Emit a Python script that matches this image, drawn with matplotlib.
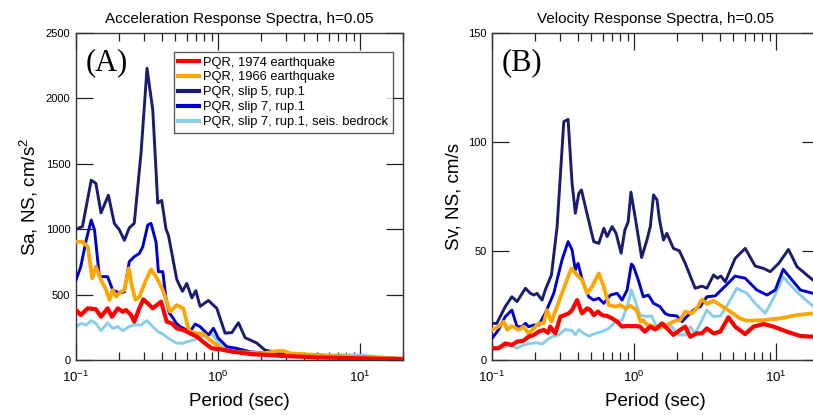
import matplotlib
matplotlib.use('Agg')
import matplotlib.pyplot as plt
from matplotlib.ticker import LogLocator, FixedLocator, NullLocator

plt.rcParams['font.family'] = ['Liberation Sans', 'DejaVu Sans']
plt.rcParams['mathtext.fontset'] = 'custom'
plt.rcParams['mathtext.rm'] = 'Liberation Sans'
plt.rcParams['mathtext.it'] = 'Liberation Sans:italic'
plt.rcParams['mathtext.bf'] = 'Liberation Sans:bold'

labels = ['PQR, 1974 earthquake', 'PQR, 1966 earthquake', 'PQR, slip 5, rup.1',
          'PQR, slip 7, rup.1', 'PQR, slip 7, rup.1, seis. bedrock']
colors = ['#ff0000', '#ffa500', '#1b1b6f', '#0000cd', '#87ceeb']
widths = [3.0, 2.7, 2.1, 2.1, 2.1]
zorders = [6, 5, 3, 4, 2]

# ---- (A) acceleration response spectra, cm/s^2 ----
sa_1974_T = [0.100, 0.108, 0.121, 0.138, 0.150, 0.167, 0.179, 0.197, 0.213, 0.225, 0.244,
             0.257, 0.279, 0.298, 0.320, 0.347, 0.397, 0.435, 0.472, 0.512, 0.570, 0.635,
             0.708, 0.810, 0.903, 1.03, 1.28, 1.68, 2.88, 4.95, 20.0]
sa_1974 = [382, 344, 395, 388, 331, 395, 331, 395, 369, 382, 344,
           293, 395, 464, 433, 395, 446, 293, 280, 242, 229, 204,
           178, 127, 89, 82, 63, 46, 31, 20, 6]

sa_1966_T = [0.100, 0.111, 0.121, 0.130, 0.138, 0.150, 0.163, 0.172, 0.181, 0.191, 0.207,
             0.219, 0.235, 0.248, 0.262, 0.279, 0.311, 0.337, 0.366, 0.408, 0.424, 0.459,
             0.512, 0.570, 0.612, 0.635, 0.708, 0.788, 0.878, 0.979, 1.09, 1.28, 1.68,
             2.08, 2.59, 2.88, 3.21, 4.95, 8.51, 20.0]
sa_1966 = [904, 904, 866, 624, 713, 612, 535, 459, 535, 484, 522,
           535, 701, 561, 459, 484, 612, 693, 637, 535, 484, 369,
           420, 394, 255, 217, 204, 199, 153, 115, 76, 63, 56,
           51, 69, 69, 51, 38, 25, 10]

sa_s5_T = [0.100, 0.111, 0.128, 0.138, 0.150, 0.169, 0.186, 0.202, 0.219, 0.237, 0.257,
           0.287, 0.316, 0.347, 0.376, 0.401, 0.430, 0.447, 0.512, 0.561, 0.602, 0.653,
           0.697, 0.747, 0.855, 0.979, 1.12, 1.25, 1.39, 1.55, 1.87, 2.14, 2.88, 4.95,
           8.51, 20.0]
sa_s5 = [1000, 1020, 1375, 1350, 1125, 1260, 1045, 995, 915, 1010, 1045,
         1585, 2230, 1910, 1200, 1220, 1000, 955, 615, 525, 585, 475,
         530, 410, 455, 395, 205, 210, 285, 170, 130, 75, 50, 38,
         25, 12]

sa_s7_T = [0.100, 0.108, 0.118, 0.128, 0.135, 0.142, 0.146, 0.167, 0.181, 0.202, 0.219,
           0.237, 0.257, 0.279, 0.295, 0.320, 0.337, 0.366, 0.380, 0.408, 0.430, 0.454,
           0.484, 0.506, 0.540, 0.635, 0.689, 0.747, 0.855, 0.927, 1.005, 1.15, 1.35,
           1.68, 2.88, 8.51, 20.0]
sa_s7 = [612, 713, 917, 1070, 994, 765, 637, 637, 535, 512, 522,
         751, 790, 815, 866, 1032, 1045, 900, 675, 675, 470, 359,
         318, 283, 255, 217, 275, 255, 191, 242, 166, 102, 89,
         63, 38, 20, 10]

sa_rock_T = [0.100, 0.108, 0.118, 0.128, 0.138, 0.150, 0.167, 0.181, 0.197, 0.213, 0.237,
             0.257, 0.287, 0.316, 0.347, 0.376, 0.401, 0.447, 0.506, 0.564, 0.602, 0.680,
             0.747, 0.855, 0.900, 0.980, 1.06, 1.25, 1.68, 4.95, 9.50, 20.0]
sa_rock = [255, 280, 268, 301, 280, 224, 285, 242, 255, 224, 255,
           268, 268, 301, 255, 217, 204, 166, 130, 127, 138, 153,
           178, 191, 199, 153, 102, 76, 51, 38, 38, 10]

# ---- (B) velocity response spectra, cm/s ----
sv_1974_T = [0.100, 0.111, 0.124, 0.138, 0.150, 0.167, 0.181, 0.197, 0.213, 0.231, 0.248,
             0.257, 0.279, 0.303, 0.325, 0.347, 0.366, 0.397, 0.430, 0.467, 0.492, 0.520,
             0.557, 0.595, 0.646, 0.700, 0.759, 0.823, 0.893, 0.957, 1.02, 1.10, 1.19,
             1.30, 1.41, 1.57, 1.75, 1.89, 2.11, 2.29, 2.48, 2.76, 3.00, 3.25, 3.62,
             4.04, 4.61, 5.14, 6.05, 6.92, 8.15, 9.57, 11.9, 14.8, 18.1, 20.0]
sv_1974 = [5.4, 5.4, 7.6, 6.9, 8.4, 8.9, 10.7, 11.5, 13.0, 13.8, 12.5,
           15.3, 12.2, 19.9, 20.6, 21.4, 22.9, 27.5, 21.4, 23.7, 22.9, 20.6,
           22.2, 20.6, 20.2, 19.1, 17.6, 15.3, 15.6, 15.5, 15.6, 15.3, 13.0,
           15.3, 14.0, 16.8, 13.8, 11.5, 13.8, 15.3, 10.7, 12.2, 12.2, 14.5, 12.2,
           13.0, 19.6, 15.3, 11.9, 15.3, 16.5, 15.3, 13.0, 11.0, 10.7, 10.6]

sv_1966_T = [0.100, 0.111, 0.121, 0.128, 0.138, 0.154, 0.167, 0.181, 0.197, 0.213, 0.231,
             0.244, 0.262, 0.287, 0.320, 0.362, 0.397, 0.430, 0.467, 0.506, 0.564, 0.612,
             0.664, 0.738, 0.801, 0.868, 0.942, 1.04, 1.11, 1.16, 1.24, 1.30, 1.45,
             1.61, 1.79, 2.00, 2.11, 2.29, 2.55, 2.76, 3.00, 3.25, 3.62, 4.04, 4.75,
             5.57, 6.22, 8.15, 10.7, 14.0, 18.1, 20.0]
sv_1966 = [13.8, 15.3, 17.6, 13.8, 15.6, 13.8, 15.3, 12.2, 14.5, 16.8, 16.8,
           22.9, 17.6, 24.5, 32.9, 42.0, 39.0, 36.7, 30.6, 33.6, 39.7, 33.6,
           25.2, 24.5, 25.2, 23.7, 24.8, 23.0, 17.6, 18.3, 16.0, 16.0, 14.5,
           15.3, 16.8, 18.3, 18.3, 22.2, 21.4, 23.7, 27.8, 25.7, 27.2, 25.2, 22.2,
           19.1, 18.0, 18.3, 19.1, 20.6, 21.4, 21.6]

sv_s5_T = [0.100, 0.108, 0.124, 0.138, 0.150, 0.172, 0.186, 0.197, 0.207, 0.225, 0.237,
           0.262, 0.287, 0.320, 0.343, 0.366, 0.386, 0.408, 0.426, 0.454, 0.520, 0.564,
           0.612, 0.646, 0.700, 0.747, 0.810, 0.861, 0.908, 0.950, 1.02, 1.13, 1.23,
           1.30, 1.37, 1.45, 1.51, 1.61, 1.70, 1.89, 2.08, 2.29, 2.69, 3.00, 3.25,
           3.62, 3.86, 4.08, 4.38, 4.75, 5.14, 6.05, 7.11, 8.15, 9.08, 10.4, 12.2,
           14.0, 18.1, 20.0]
sv_s5 = [16.8, 16.8, 24.5, 29.0, 26.8, 32.9, 30.6, 29.8, 30.6, 27.5, 32.1,
         39.0, 61.0, 109.3, 110.4, 81.0, 67.3, 76.4, 78.0, 70.3, 54.3, 53.5,
         60.4, 56.6, 61.2, 58.1, 49.0, 59.6, 63.4, 77.0, 65.0, 47.0, 55.0,
         61.2, 75.7, 73.4, 64.2, 55.0, 58.1, 51.2, 50.1, 44.3, 32.9, 33.9, 32.9,
         39.0, 37.5, 38.5, 35.9, 41.3, 46.6, 51.2, 43.1, 42.0, 40.5, 44.3, 50.7,
         42.8, 36.7, 35.5]

sv_s7_T = [0.100, 0.111, 0.124, 0.138, 0.150, 0.163, 0.172, 0.181, 0.197, 0.213, 0.237,
           0.272, 0.311, 0.343, 0.366, 0.386, 0.403, 0.435, 0.480, 0.520, 0.564, 0.612,
           0.681, 0.759, 0.823, 0.893, 0.957, 0.989, 1.07, 1.16, 1.26, 1.37, 1.52,
           1.65, 1.75, 2.00, 2.17, 2.35, 2.62, 2.92, 3.25, 3.72, 4.38, 5.14, 6.05,
           7.31, 8.61, 9.84, 11.2, 12.9, 14.8, 18.1, 20.0]
sv_s7 = [9.9, 13.8, 19.9, 22.9, 15.3, 15.3, 16.8, 15.3, 16.0, 16.0, 21.4,
         30.6, 45.9, 54.3, 50.5, 41.3, 44.3, 35.9, 29.0, 27.5, 28.3, 26.0,
         29.8, 30.6, 27.5, 32.1, 44.0, 43.0, 36.7, 29.0, 29.8, 26.0, 24.5,
         21.4, 20.6, 20.2, 17.6, 19.9, 22.9, 24.5, 29.0, 29.4, 33.9, 38.5, 37.5,
         32.1, 29.8, 32.1, 41.6, 36.7, 32.1, 30.6, 30.4]

sv_rock_T = [0.100, 0.111, 0.124, 0.135, 0.150, 0.167, 0.186, 0.207, 0.225, 0.244, 0.265,
             0.295, 0.328, 0.366, 0.386, 0.408, 0.442, 0.480, 0.534, 0.595, 0.664, 0.738,
             0.823, 0.893, 0.957, 1.02, 1.10, 1.23, 1.33, 1.45, 1.61, 1.84, 2.05,
             2.29, 2.48, 2.69, 3.00, 3.25, 3.62, 4.04, 4.61, 5.28, 6.22, 7.11, 8.37,
             9.84, 11.2, 12.9, 15.2, 18.1, 20.0]
sv_rock = [4.6, 5.4, 6.1, 6.9, 5.4, 6.9, 7.6, 7.9, 7.3, 9.2, 10.7,
           11.5, 14.0, 13.5, 11.5, 14.0, 12.2, 11.0, 12.2, 13.0, 14.5, 17.6,
           18.3, 24.5, 32.1, 27.0, 20.6, 19.9, 20.2, 14.5, 16.8, 15.3, 11.5,
           11.5, 15.3, 12.2, 18.3, 22.9, 19.9, 20.2, 26.0, 32.9, 30.6, 26.0, 21.4,
           29.8, 38.2, 33.6, 29.0, 24.8, 22.0]

sa_series = [(sa_1974_T, sa_1974), (sa_1966_T, sa_1966), (sa_s5_T, sa_s5),
             (sa_s7_T, sa_s7), (sa_rock_T, sa_rock)]
sv_series = [(sv_1974_T, sv_1974), (sv_1966_T, sv_1966), (sv_s5_T, sv_s5),
             (sv_s7_T, sv_s7), (sv_rock_T, sv_rock)]


def draw_panel(ax, series, title, ylabel, ymax, ystep, tag):
    for (T, v), lab, c, lw, z in zip(series, labels, colors, widths, zorders):
        ax.plot(T, v, color=c, lw=lw, label=lab, zorder=z)
    ax.set_xscale('log')
    ax.set_xlim(0.1, 20)
    ax.set_ylim(0, ymax)
    ax.xaxis.set_major_locator(LogLocator(base=10, numticks=10))
    ax.xaxis.set_minor_locator(LogLocator(base=10, subs=range(2, 10), numticks=20))
    ax.yaxis.set_major_locator(FixedLocator(list(range(0, ymax + 1, ystep))))
    ax.yaxis.set_minor_locator(NullLocator())
    ax.tick_params(which='major', direction='in', length=12, width=0.9, color='#222222',
                   top=True, right=True, labelsize=8, pad=4)
    ax.tick_params(which='minor', direction='in', length=6, width=0.9, color='#222222',
                   top=True, right=True)
    ax.tick_params(axis='x', which='major', labelsize=9.5, pad=7)
    for s in ax.spines.values():
        s.set_color('#333333')
        s.set_linewidth(1.0)
    ax.set_title(title, fontsize=11, pad=7)
    ax.set_xlabel('Period (sec)', fontsize=13.5, labelpad=6)
    ax.set_ylabel(ylabel, fontsize=13.5, labelpad=4)
    ax.text(0.028, 0.885, tag, transform=ax.transAxes, fontsize=22,
            family='Liberation Serif', va='baseline', ha='left', zorder=10)


fig = plt.figure(figsize=(8.13, 4.15), dpi=100)
ax1 = fig.add_axes([76 / 813, 55 / 415, 327 / 813, 327 / 415])
ax2 = fig.add_axes([492 / 813, 55 / 415, 327 / 813, 327 / 415])

draw_panel(ax1, sa_series, 'Acceleration Response Spectra, h=0.05',
           r'Sa, NS, cm/s$^2$', 2500, 500, '(A)')
draw_panel(ax2, sv_series, 'Velocity Response Spectra, h=0.05',
           'Sv, NS, cm/s', 150, 50, '(B)')

leg = ax1.legend(loc='upper right', bbox_to_anchor=(0.969, 0.942), borderaxespad=0,
                 fontsize=9.3, frameon=True, fancybox=False, handlelength=1.6,
                 handletextpad=0.35, labelspacing=0.22, borderpad=0.35)
leg.get_frame().set_edgecolor('#333333')
leg.get_frame().set_linewidth(1.0)
for line in leg.get_lines():
    line.set_linewidth(3)

fig.savefig('out.png', dpi=100)
